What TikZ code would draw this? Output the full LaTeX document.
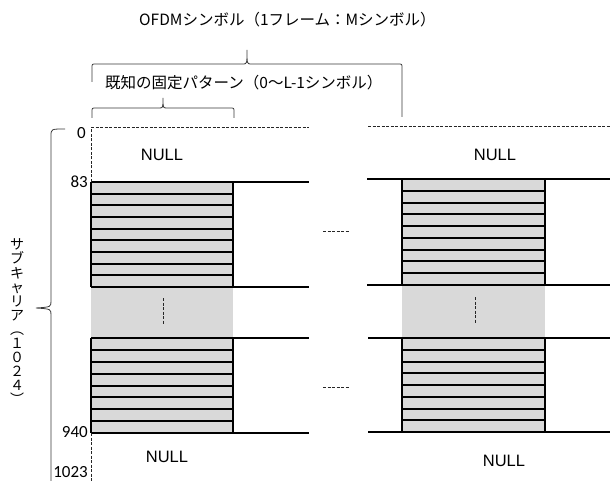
\documentclass[tikz,border=0pt]{standalone}
\usepackage{fontspec}
\setmainfont{Noto Sans CJK JP}
\newfontfamily\jp{Noto Sans CJK JP}
\newfontfamily\jpv{Noto Sans CJK JP}
\newfontfamily\numf{Carlito}
\newfontfamily\nullf{Liberation Sans}
\definecolor{cellgray}{HTML}{D9D9D9}
\definecolor{linegray}{HTML}{3A3A3A}
\begin{document}
\begin{tikzpicture}[x=1pt,y=-1pt,
  blk/.style={line width=1.3pt, draw=black},
  brc/.style={line width=0.8pt, draw=linegray},
  dsh/.style={line width=1pt, draw=black!85, dash pattern=on 3pt off 1.5pt},
  numlbl/.style={font=\numf\fontsize{17}{18}\selectfont, inner sep=0pt, anchor=east},
  nulllbl/.style={font=\nullf\fontsize{16.5}{18}\selectfont, inner sep=0pt},
  jplbl/.style={font=\jp\fontsize{15.5}{17}\selectfont, inner sep=0pt, anchor=west}]
\useasboundingbox (0,0) rectangle (610,481);

% --- titles and braces
\node[jplbl] (ofdm) at (139,20) {OFDMシンボル（1フレーム：Mシンボル）};
\node[jplbl] (known) at (105,83) {既知の固定パターン（0〜L-1シンボル）};
\coordinate (bigL) at (92,82);
\coordinate (bigR) at (402,117);
\coordinate (bigT) at (247,50);
\draw[brc] (bigL) -- (92,68) .. controls (92,64) .. (96,64) -- (243,64)
  .. controls (247,64) .. (bigT) .. controls (247,64) .. (251,64) -- (398,64)
  .. controls (402,64) .. (402,68) -- (bigR);
\coordinate (smL) at (92,118);
\coordinate (smR) at (234,118);
\coordinate (smT) at (163,98);
\draw[brc] (smL) -- (92,112) .. controls (92,108) .. (96,108) -- (159,108)
  .. controls (163,108) .. (smT) .. controls (163,108) .. (167,108) -- (230,108)
  .. controls (234,108) .. (234,112) -- (smR);

% --- subcarrier brace and label
\coordinate (scT) at (65,129);
\coordinate (scB) at (51,481);
\coordinate (scM) at (36,308);
\draw[brc] (scT) .. controls (51,129) .. (51,136) -- (51,301)
  .. controls (51,307) .. (scM) .. controls (51,309) .. (51,315) -- (scB);
\node[font=\jpv\fontsize{14}{14.1}\selectfont, align=center, inner sep=0pt] (sub) at (17,322)
  {サ\\ブ\\キ\\ャ\\リ\\ア\\︵\\１\\０\\２\\４\\︶};

% --- left block
\fill[cellgray] (91,182) rectangle (233,433);
\foreach \i in {0,...,9} \draw[blk] (91,{round(182+\i*11.67)}) -- (233,{round(182+\i*11.67)});
\foreach \i in {0,...,8} \draw[blk] (91,{round(338+\i*11.875)}) -- (233,{round(338+\i*11.875)});
\draw[blk] (91,182) -- (91,287) (233,182) -- (233,287);
\draw[blk] (91,338) -- (91,433) (233,338) -- (233,433);
\draw[blk] (233,182) -- (309,182) (233,287) -- (309,287)
           (233,338) -- (309,338) (233,433) -- (309,433);
\draw[dsh] (91,182) -- (91,128) -- (309,128);
\draw[dsh] (91,433) -- (91,481);
\draw[dsh] (163,298) -- (163,325);

% --- right block
\fill[cellgray] (402,179) rectangle (545,432);
\foreach \i in {0,...,9} \draw[blk] (402,{round(179+\i*11.78)}) -- (545,{round(179+\i*11.78)});
\foreach \i in {0,...,8} \draw[blk] (402,{round(338+\i*11.75)}) -- (545,{round(338+\i*11.75)});
\draw[blk] (402,179) -- (402,286) (545,179) -- (545,285);
\draw[blk] (402,338) -- (402,432) (545,338) -- (545,432);
\draw[blk] (367,179) -- (402,179) (367,285) -- (402,285)
           (368,338) -- (402,338) (368,432) -- (402,432);
\draw[blk] (545,179) -- (610,179) (545,285) -- (610,285)
           (545,338) -- (610,338) (545,432) -- (610,432);
\draw[dsh] (368,127) -- (610,127);
\draw[dsh] (475,297) -- (475,323);

% --- continuation dashes
\draw[dsh] (323,231) -- (350,231);
\draw[dsh] (323,387) -- (350,387);

% --- labels
\node[numlbl] (n0) at (86,133) {0};
\node[numlbl] (n83) at (88,182) {83};
\node[numlbl] (n940) at (88,432) {940};
\node[numlbl] (n1023) at (88,472) {1023};
\node[nulllbl] (nullTL) at (162,155) {NULL};
\node[nulllbl] (nullBL) at (167,457) {NULL};
\node[nulllbl] (nullTR) at (495,155) {NULL};
\node[nulllbl] (nullBR) at (504,461) {NULL};
\end{tikzpicture}
\end{document}
